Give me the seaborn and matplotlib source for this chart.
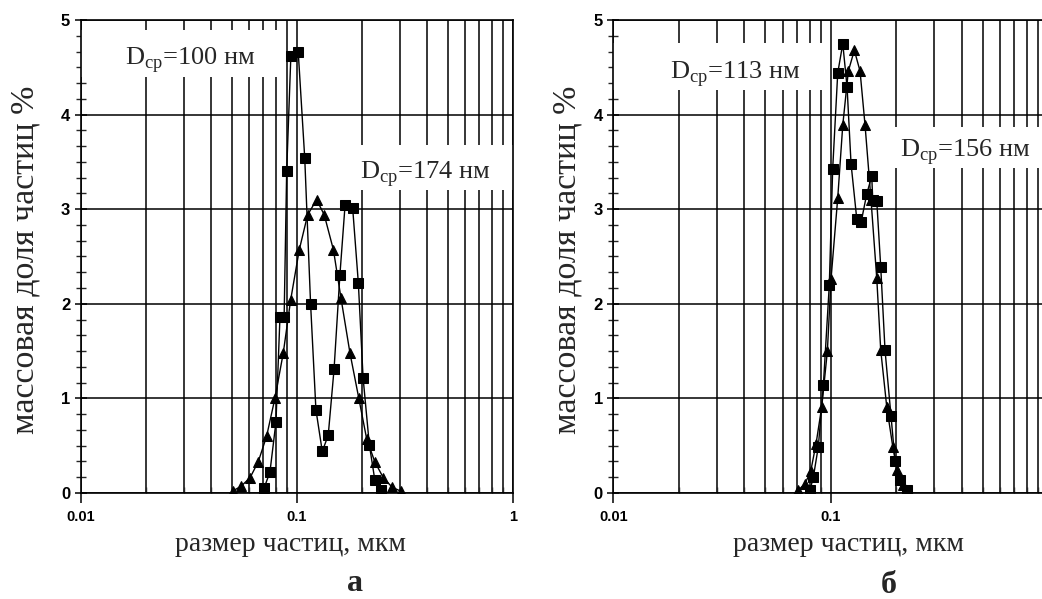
import matplotlib
matplotlib.use('Agg')
import matplotlib.pyplot as plt
import seaborn as sns
from matplotlib.ticker import FixedLocator, MultipleLocator, LogLocator, NullFormatter
from matplotlib.patches import Rectangle

# panel a: squares and triangles (size in um, mass share in %)
sq_a_x = [0.0706, 0.0752, 0.0802, 0.0837, 0.0875, 0.0899, 0.0940, 0.1017, 0.109, 0.116, 0.1228,
          0.1314, 0.140, 0.149, 0.1585, 0.1675, 0.1817, 0.193, 0.203, 0.217, 0.230, 0.245]
sq_a_y = [0.05, 0.22, 0.75, 1.86, 1.86, 3.40, 4.62, 4.66, 3.54, 2.00, 0.88,
          0.44, 0.61, 1.31, 2.30, 3.04, 3.01, 2.22, 1.22, 0.51, 0.14, 0.03]
tri_a_x = [0.0505, 0.0552, 0.0608, 0.0664, 0.0726, 0.0793, 0.0867, 0.0938, 0.1028, 0.1124, 0.1237,
           0.1342, 0.148, 0.1604, 0.1765, 0.194, 0.211, 0.230, 0.252, 0.277, 0.303]
tri_a_y = [0.02, 0.07, 0.16, 0.33, 0.60, 1.00, 1.48, 2.04, 2.57, 2.94, 3.10,
           2.94, 2.57, 2.06, 1.48, 1.00, 0.57, 0.33, 0.16, 0.06, 0.02]

# panel b
sq_b_x = [0.0803, 0.0832, 0.0877, 0.0925, 0.0985, 0.1021, 0.1077, 0.1136, 0.1189, 0.124, 0.1317,
          0.1379, 0.1464, 0.1544, 0.156, 0.1628, 0.1698, 0.1777, 0.1894, 0.1976, 0.2084, 0.2251]
sq_b_y = [0.03, 0.17, 0.49, 1.14, 2.20, 3.43, 4.44, 4.75, 4.29, 3.48, 2.90,
          2.86, 3.16, 3.35, 3.10, 3.09, 2.39, 1.51, 0.81, 0.34, 0.14, 0.03]
tri_b_x = [0.0710, 0.0762, 0.0809, 0.0856, 0.0909, 0.0965, 0.1003, 0.1077, 0.1136, 0.1205, 0.1284,
           0.1364, 0.1438, 0.1532, 0.1628, 0.1698, 0.1810, 0.1929, 0.2025, 0.2144, 0.2268]
tri_b_y = [0.03, 0.10, 0.23, 0.52, 0.91, 1.50, 2.26, 3.12, 3.89, 4.46, 4.68,
           4.46, 3.89, 3.10, 2.27, 1.51, 0.91, 0.49, 0.24, 0.08, 0.03]

x_ticks = [0.01, 0.1, 1]
x_tick_labels_a = ['0.01', '0.1', '1']
x_tick_labels_b = ['0.01', '0.1', '']   # the "1" of panel b falls outside the picture
y_ticks = [0, 1, 2, 3, 4, 5]
labels_a = [r'D$_{\mathregular{ср}}$=100 нм', r'D$_{\mathregular{ср}}$=174 нм']
labels_b = [r'D$_{\mathregular{ср}}$=113 нм', r'D$_{\mathregular{ср}}$=156 нм']
xlabel = 'размер частиц, мкм'
ylabel = 'массовая доля частиц %'

sns.set_theme(style='white')
plt.rcParams['font.family'] = ['Liberation Serif', 'DejaVu Serif']
plt.rcParams['mathtext.fontset'] = 'custom'
plt.rcParams['mathtext.rm'] = 'Liberation Serif'

fig = plt.figure(figsize=(10.42, 5.99), dpi=100)
ax_a = fig.add_axes([0.0774, 0.177, 0.4146, 0.7896])
ax_b = fig.add_axes([0.5886, 0.177, 0.4173, 0.7896])


def draw_panel(ax, sx, sy, tx, ty, xt_labels, labels, boxes, text_pos, xl_x, yl_x):
    sns.lineplot(x=tx, y=ty, ax=ax, color='black', lw=1.0, marker='^', markersize=7,
                 markeredgecolor='black', sort=False, estimator=None, zorder=4)
    sns.lineplot(x=sx, y=sy, ax=ax, color='black', lw=1.0, marker='s', markersize=6.5,
                 markeredgecolor='black', sort=False, estimator=None, zorder=5)
    ax.set_xscale('log')
    ax.set_xlim(0.01, 1)
    ax.set_ylim(0, 5)

    ax.xaxis.set_major_locator(FixedLocator(x_ticks))
    ax.set_xticklabels(xt_labels)
    ax.xaxis.set_minor_locator(LogLocator(base=10, subs=range(2, 10)))
    ax.xaxis.set_minor_formatter(NullFormatter())
    ax.yaxis.set_major_locator(FixedLocator(y_ticks))
    ax.yaxis.set_minor_locator(MultipleLocator(1 / 6))

    ax.grid(True, which='both', axis='x', color='black', lw=1.1)
    ax.grid(True, which='major', axis='y', color='black', lw=1.1)
    ax.set_axisbelow(True)

    ax.tick_params(axis='y', which='major', direction='inout', length=9, width=1.1,
                   left=True, pad=3, labelsize=12, colors='black')
    ax.tick_params(axis='y', which='minor', direction='inout', length=7, width=1.0, left=True)
    ax.tick_params(axis='x', which='major', direction='out', length=7, width=1.1,
                   bottom=True, pad=5, labelsize=10.5, colors='black')
    ax.tick_params(axis='x', which='minor', direction='in', length=4, width=1.0, bottom=True)
    for t in ax.get_xticklabels() + ax.get_yticklabels():
        t.set_fontfamily('Liberation Sans')
        t.set_fontweight('bold')

    for sp in ax.spines.values():
        sp.set_color('black')
        sp.set_linewidth(1.2)

    # white boxes under the labels hide the grid
    for (bx, by, bw, bh), lab, (lx, ly) in zip(boxes, labels, text_pos):
        ax.add_patch(Rectangle((bx, by), bw, bh, transform=ax.transAxes,
                               facecolor='white', edgecolor='none', zorder=1.5))
        ax.text(lx, ly, lab, transform=ax.transAxes, fontsize=19, ha='left',
                va='baseline', zorder=6)

    ax.set_xlabel(xlabel, fontsize=20)
    ax.xaxis.set_label_coords(xl_x, -0.083)
    ax.set_ylabel(ylabel, fontsize=24.5)
    ax.yaxis.set_label_coords(yl_x, 0.4926)


draw_panel(ax_a, sq_a_x, sq_a_y, tri_a_x, tri_a_y, x_tick_labels_a, labels_a,
           [(0.0, 0.8795, 0.4637, 0.0995), (0.631, 0.6406, 0.369, 0.0951)],
           [(0.1025, 0.905), (0.6465, 0.6653)], 0.4868, -0.093)
draw_panel(ax_b, sq_b_x, sq_b_y, tri_b_x, tri_b_y, x_tick_labels_b, labels_b,
           [(0.0, 0.852, 0.4885, 0.0987), (0.644, 0.6865, 0.40, 0.0879)],
           [(0.1304, 0.8767), (0.6594, 0.711)], 0.5398, -0.07)

fig.text(355 / 1042, (599 - 591) / 599, 'а', fontsize=23, fontweight='bold',
         ha='center', va='baseline')
fig.text(889 / 1042, (599 - 593) / 599, 'б', fontsize=23, fontweight='bold',
         ha='center', va='baseline')

fig.savefig('out.png', dpi=100)
